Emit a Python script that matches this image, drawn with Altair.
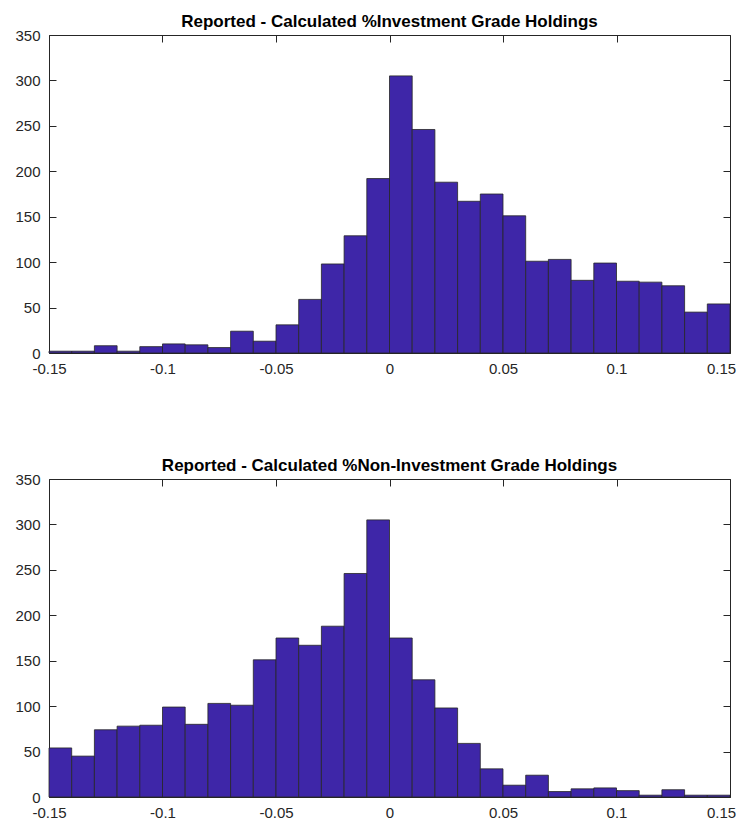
import altair as alt
import pandas as pd

# Histogram bin edges (bin width 0.01)
bin_lo = [-0.15, -0.14, -0.13, -0.12, -0.11, -0.10, -0.09, -0.08, -0.07, -0.06,
          -0.05, -0.04, -0.03, -0.02, -0.01, 0.00, 0.01, 0.02, 0.03, 0.04,
          0.05, 0.06, 0.07, 0.08, 0.09, 0.10, 0.11, 0.12, 0.13, 0.14]
bin_hi = [-0.14, -0.13, -0.12, -0.11, -0.10, -0.09, -0.08, -0.07, -0.06, -0.05,
          -0.04, -0.03, -0.02, -0.01, 0.00, 0.01, 0.02, 0.03, 0.04, 0.05,
          0.06, 0.07, 0.08, 0.09, 0.10, 0.11, 0.12, 0.13, 0.14, 0.15]

# Counts per bin
ig_counts = [2, 2, 8, 2, 7, 10, 9, 6, 24, 13,
             31, 59, 98, 129, 192, 305, 246, 188, 167, 175,
             151, 101, 103, 80, 99, 79, 78, 74, 45, 54]
nig_counts = [54, 45, 74, 78, 79, 99, 80, 103, 101, 151,
              175, 167, 188, 246, 305, 175, 129, 98, 59, 31,
              13, 24, 6, 9, 10, 7, 2, 8, 2, 2]

x_ticks = [-0.15, -0.1, -0.05, 0, 0.05, 0.1, 0.15]
y_ticks = [0, 50, 100, 150, 200, 250, 300, 350]

titles = ["Reported - Calculated %Investment Grade Holdings",
          "Reported - Calculated %Non-Investment Grade Holdings"]

W, H = 681, 318
INK = "#262626"
BAR = "#3E26A8"
TICK = 7
LABEL_EXPR = "datum.value == 0 ? '0' : toString(round(datum.value * 100) / 100)"
# keep the last x label inside the page width
LAST_LABEL_SHIFT = {"condition": {"test": "datum.value > 0.14", "value": -9}, "value": 0}


def panel(counts, title):
    df = pd.DataFrame({"lo": bin_lo, "hi": bin_hi, "n": counts})
    xs = alt.Scale(domain=[-0.15, 0.15], nice=False, zero=False)
    ys = alt.Scale(domain=[0, 350], nice=False)
    base = alt.Chart(df)
    bars = base.mark_bar(color=BAR, stroke=INK, strokeWidth=0.8).encode(
        x=alt.X("lo:Q", scale=xs, title=None,
                axis=alt.Axis(orient="bottom", values=x_ticks, labelExpr=LABEL_EXPR,
                              offset=-TICK, tickSize=TICK, domain=False, grid=False,
                              labelFlush=False, labelPadding=8, labelOverlap=False,
                              labelOffset=LAST_LABEL_SHIFT)),
        x2="hi:Q",
        y=alt.Y("n:Q", scale=ys, title=None,
                axis=alt.Axis(orient="left", values=y_ticks, offset=-TICK,
                              tickSize=TICK, domain=False, grid=False,
                              labelPadding=9, labelOverlap=False)),
        y2=alt.datum(0),
    )
    ghost = base.mark_bar(opacity=0, strokeOpacity=0).encode(
        x=alt.X("lo:Q", scale=xs, title=None,
                axis=alt.Axis(orient="top", values=x_ticks, labels=False,
                              offset=-TICK, tickSize=TICK, domain=False, grid=False)),
        x2="hi:Q",
        y=alt.Y("n:Q", scale=ys, title=None,
                axis=alt.Axis(orient="right", values=y_ticks, labels=False,
                              offset=-TICK, tickSize=TICK, domain=False, grid=False)),
        y2=alt.datum(0),
    )
    return (alt.layer(bars, ghost)
            .resolve_axis(x="independent", y="independent")
            .properties(width=W, height=H,
                        title=alt.TitleParams(title, offset=-2.5)))


chart = (alt.vconcat(panel(ig_counts, titles[0]), panel(nig_counts, titles[1]), spacing=79)
         .properties(padding={"left": 6, "top": 4, "right": 0, "bottom": 0})
         .configure_view(stroke=INK, strokeWidth=1)
         .configure_axis(labelFont="Liberation Sans", labelFontSize=15, labelColor=INK,
                         tickColor=INK, tickWidth=1)
         .configure_title(font="Liberation Sans", fontSize=17, fontWeight="bold",
                          color="black", anchor="middle"))

chart.save("out.html", embed_options={"renderer": "svg", "actions": False})
